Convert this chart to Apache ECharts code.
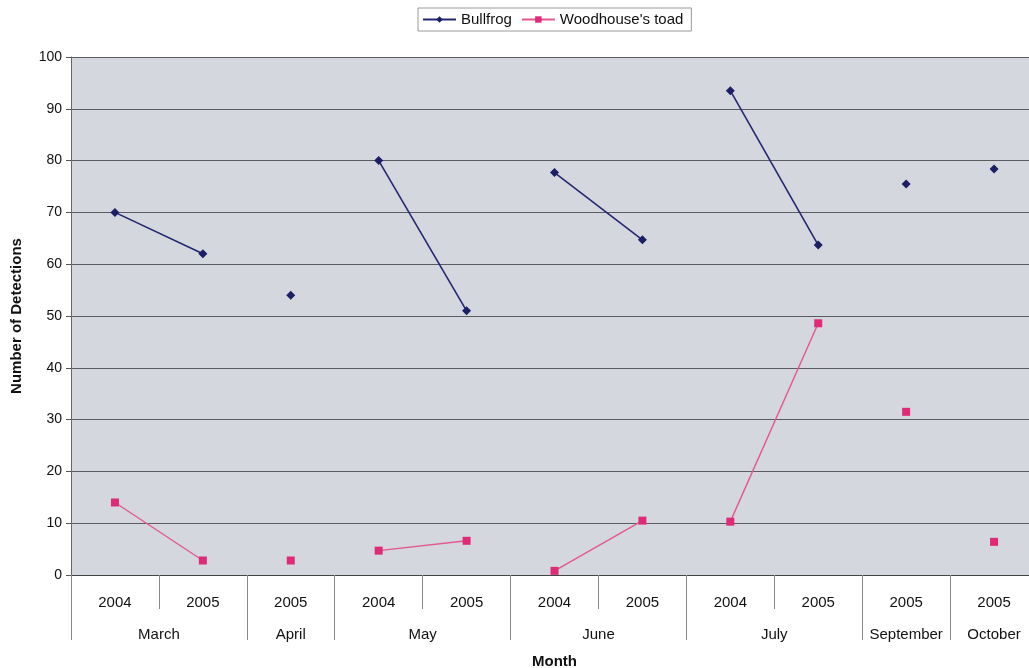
<!DOCTYPE html>
<html>
<head>
<meta charset="utf-8">
<style>
  html, body { margin: 0; padding: 0; background: #ffffff; }
  #chart { width: 1029px; height: 668px; }
</style>
<script src="https://cdn.jsdelivr.net/npm/echarts@6/dist/echarts.min.js"></script>
</head>
<body>
<div id="chart"></div>
<script>
// Survey slots: one per month/year combination
const years = ['2004', '2005', '2005', '2004', '2005', '2004', '2005', '2004', '2005', '2005', '2005'];
const months = ['March', 'April', 'May', 'June', 'July', 'September', 'October'];
const monthSpans = [2, 1, 2, 2, 2, 1, 1]; // number of year slots in each month

const bullfrog = [70, 62, 54, 80, 51, 77.7, 64.7, 93.5, 63.7, 75.5, 78.4];
const woodhouse = [14, 2.8, 2.8, 4.7, 6.6, 0.8, 10.5, 10.3, 48.6, 31.5, 6.4];

const yTicks = [0, 10, 20, 30, 40, 50, 60, 70, 80, 90, 100];

// Lines are only joined within a month, so each month gets its own series piece
function splitByMonth(name, values, style) {
  const out = [];
  let start = 0;
  monthSpans.forEach(span => {
    const data = values.map((v, i) => (i >= start && i < start + span) ? v : null);
    out.push(Object.assign({ name: name, type: 'line', data: data, xAxisIndex: 0 }, style));
    start += span;
  });
  return out;
}

// Half-slot positions for the month row: labels at group centres, ticks at group edges
const halfCount = years.length * 2 + 1;
const monthRow = new Array(halfCount).fill('');
const monthEdges = new Set([0]);
let pos = 0;
monthSpans.forEach((span, k) => {
  monthRow[pos + span] = months[k];
  pos += span * 2;
  monthEdges.add(pos);
});

const font = 'Liberation Sans, Arial, sans-serif';

const chart = echarts.init(document.getElementById('chart'));
chart.setOption({
  animation: false,
  textStyle: { fontFamily: font },
  legend: {
    top: 8,
    left: 418,
    data: ['Bullfrog', "Woodhouse's toad"],
    borderColor: '#9a9a9a',
    borderWidth: 1,
    padding: [4, 8, 4, 4],
    itemGap: 9,
    itemWidth: 33,
    itemHeight: 8,
    textStyle: { fontFamily: font, fontSize: 15, color: '#111' }
  },
  grid: {
    left: 71,
    top: 57,
    width: 967,
    height: 518,
    outerBoundsMode: 'none',
    containLabel: false,
    show: true,
    backgroundColor: '#d4d7de',
    borderWidth: 0
  },
  xAxis: [
    {
      type: 'category',
      data: years,
      position: 'bottom',
      boundaryGap: true,
      axisLine: { show: true, lineStyle: { color: '#444', width: 1 } },
      axisTick: { show: true, length: 34, lineStyle: { color: '#888', width: 1 } },
      axisLabel: { margin: 20, fontSize: 15, color: '#111', fontFamily: font },
      splitLine: { show: false }
    },
    {
      type: 'category',
      data: monthRow,
      position: 'bottom',
      boundaryGap: false,
      axisLine: { show: false },
      axisTick: {
        show: true,
        length: 65,
        interval: (i) => monthEdges.has(i),
        lineStyle: { color: '#888', width: 1 }
      },
      axisLabel: { interval: 0, margin: 52, fontSize: 15, color: '#111', fontFamily: font },
      name: 'Month',
      nameLocation: 'middle',
      nameGap: 79,
      nameTextStyle: { fontWeight: 'bold', fontSize: 15, color: '#111', fontFamily: font }
    }
  ],
  yAxis: {
    type: 'value',
    min: 0,
    max: 100,
    interval: 10,
    name: 'Number of Detections',
    nameLocation: 'middle',
    nameGap: 47,
    nameRotate: 90,
    nameTextStyle: { fontWeight: 'bold', fontSize: 15, color: '#111', fontFamily: font },
    axisLine: { show: true, lineStyle: { color: '#666', width: 1 } },
    axisTick: { show: true, length: 5, lineStyle: { color: '#555' } },
    axisLabel: {
      margin: 9, fontSize: 14, color: '#111', fontFamily: font,
      formatter: v => yTicks.includes(v) ? String(v) : ''
    },
    splitLine: { show: true, lineStyle: { color: '#5a5c62', width: 1.2 } }
  },
  series: [
    ...splitByMonth('Bullfrog', bullfrog, {
      symbol: 'diamond',
      symbolSize: 9,
      color: '#1c1f63',
      itemStyle: { color: '#1c1f63' },
      lineStyle: { color: '#232870', width: 1.6 }
    }),
    ...splitByMonth("Woodhouse's toad", woodhouse, {
      symbol: 'rect',
      symbolSize: 8,
      color: '#df2a78',
      itemStyle: { color: '#df2a78' },
      lineStyle: { color: '#e2588f', width: 1.4 }
    })
  ]
});
</script>
</body>
</html>
